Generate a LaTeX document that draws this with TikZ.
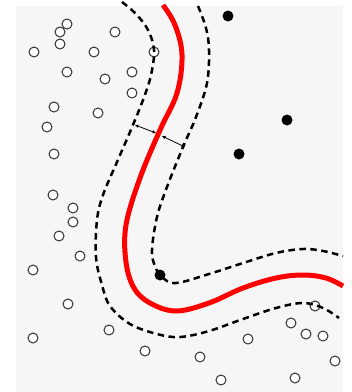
\documentclass[tikz,border=0pt]{standalone}
\usetikzlibrary{arrows.meta}
\definecolor{bgchk}{HTML}{F6F6F6}
\definecolor{ringc}{HTML}{333333}
\begin{document}
\begin{tikzpicture}[x=1pt,y=-1pt,
  opendot/.style={circle,draw=ringc,line width=1pt,fill=white,inner sep=0pt,minimum size=10pt},
  fulldot/.style={circle,fill=black,inner sep=0pt,minimum size=11pt},
  margin/.style={line width=2.5pt,dash pattern=on 6.5pt off 4.5pt},
  boundary/.style={line width=5pt,red},
  gap/.style={line width=0.8pt,{Stealth[length=4pt,width=3.5pt]}-{Stealth[length=4pt,width=3.5pt]}}]
\useasboundingbox (0,0) rectangle (352,392);
\fill[white] (0,0) rectangle (352,392);
\fill[bgchk] (16,6) rectangle (343,392);
% open circles
\foreach \x/\y [count=\i] in {67/24,60/32,60/44,34/52,94/52,115/32,154/52,67/72,105/79,132/72,132/93,54/107,98/113,47/127,54/154,53/195,73/208,73/222,59/236,80/256,33/270,68/304,33/338,109/330,145/351,200/357,221/380,295/378,248/339,291/323,306/334,323/336,315/306,335/361}
  \node[opendot] (o\i) at (\x,\y) {};
% margin curves
\draw[margin] plot[smooth,tension=0.6] coordinates {(122,2) (136,14) (148,30) (154,50) (151,75) (143,100) (130,132) (117,162) (103,195) (97,220) (96,257) (102,285) (110,306) (130,324) (157,334) (180,337) (209,331) (243,319) (276,308) (303,303) (323,308) (339,318)};
\draw[margin] plot[smooth,tension=0.6] coordinates {(198,6) (206,28) (209,50) (207,83) (196,117) (183,147) (167,187) (157,217) (152,250) (155,266) (162,277) (176,283) (209,274) (243,263) (276,253) (303,249) (323,251) (343,256)};
% boundary
\draw[boundary] plot[smooth,tension=0.6] coordinates {(163,5) (175,25) (182,55) (177,93) (160,130) (140,178) (126,225) (126,262) (134,288) (150,303) (176,311) (209,303) (243,288) (276,278) (303,275) (326,278) (343,286)};
% filled support points
\node[fulldot] (s1) at (228,16) {};
\node[fulldot] (s2) at (287,120) {};
\node[fulldot] (s3) at (239,154) {};
\node[fulldot] (s4) at (160,275) {};
% margin arrows
\coordinate (a1) at (135,125);
\coordinate (a2) at (156,133);
\coordinate (b1) at (162,136);
\coordinate (b2) at (185,147);
\draw[gap] (a1) -- (a2);
\draw[gap] (b1) -- (b2);
\end{tikzpicture}
\end{document}
